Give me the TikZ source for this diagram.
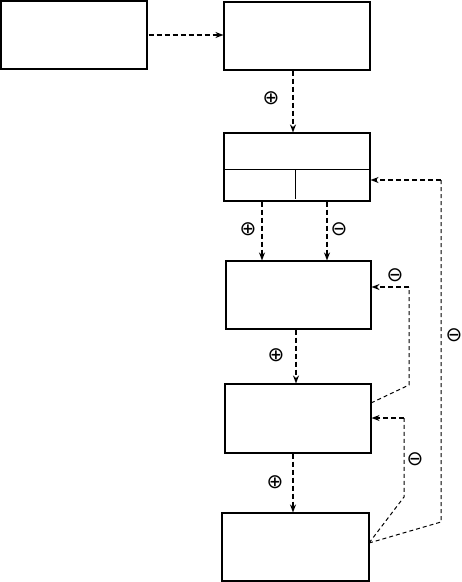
\documentclass[tikz,border=0pt]{standalone}
\usepackage{fontspec}
\newfontfamily\signfont{DejaVu Sans}
\usetikzlibrary{arrows.meta,calc}
\begin{document}
\begin{tikzpicture}[x=1pt,y=-1pt,
  box/.style={draw,line width=1.1pt,minimum width=146pt,minimum height=68pt,inner sep=0pt},
  flow/.style={line width=1.9pt,dash pattern=on 5pt off 3pt,-{Stealth[length=8pt,width=6pt]}},
  ret/.style={line width=1pt,dash pattern=on 4pt off 3pt},
  sign/.style={inner sep=0pt,font=\signfont\fontsize{20}{20}\selectfont}]
\useasboundingbox (0,0) rectangle (462,582);
\node[box] (A) at (74,35) {};
\node[box] (B) at (297,36) {};
\node[box] (C) at (297,167) {};
\node[box,minimum width=145pt] (D) at (298.5,295) {};
\node[box,minimum height=69pt] (E) at (298,418.5) {};
\node[box,minimum width=147pt] (F) at (295.5,547) {};
% divider in C
\draw[line width=1pt] (C.west |- 0,169) -- (C.east |- 0,169);
\draw[line width=1pt] (295,169) -- (295,199);
% main flow
\draw[flow] ([xshift=1pt]A.east) -- (A.east -| B.west);
\draw[flow] ([xshift=-4pt]B.south) -- ([xshift=-4pt]C.north);
\draw[flow] ([xshift=-35pt]C.south) -- ([xshift=-36.5pt]D.north);
\draw[flow] ([xshift=30pt]C.south) -- ([xshift=28.5pt]D.north);
\draw[flow] ([xshift=-2.5pt]D.south) -- ([xshift=-2pt]E.north);
\draw[flow] ([xshift=-5pt]E.south) -- ([xshift=-2.5pt]F.north);
% feedback
\coordinate (f0) at (369,543);
\coordinate (e0) at (371,403);
\coordinate (c1) at (441,522);
\coordinate (c2) at (441,180);
\coordinate (d1) at (409,385);
\coordinate (d2) at (409,287);
\coordinate (g1) at (404,497);
\coordinate (g2) at (404,418);
\draw[ret] (f0) -- (c1) -- (c2);
\draw[flow] (c2) -- (c2 -| C.east);
\draw[ret] (e0) -- (d1) -- (d2);
\draw[flow] (d2) -- (d2 -| D.east);
\draw[ret] (f0) -- (g1) -- (g2);
\draw[flow] (g2) -- (g2 -| E.east);
% signs
\node[sign] (s1) at (271,98) {⊕};
\node[sign] (s2) at (248,229) {⊕};
\node[sign] (s3) at (339,229) {⊖};
\node[sign] (s4) at (395,275) {⊖};
\node[sign] (s5) at (454,335) {⊖};
\node[sign] (s6) at (276,355) {⊕};
\node[sign] (s7) at (415,459) {⊖};
\node[sign] (s8) at (275,482) {⊕};
\end{tikzpicture}
\end{document}
